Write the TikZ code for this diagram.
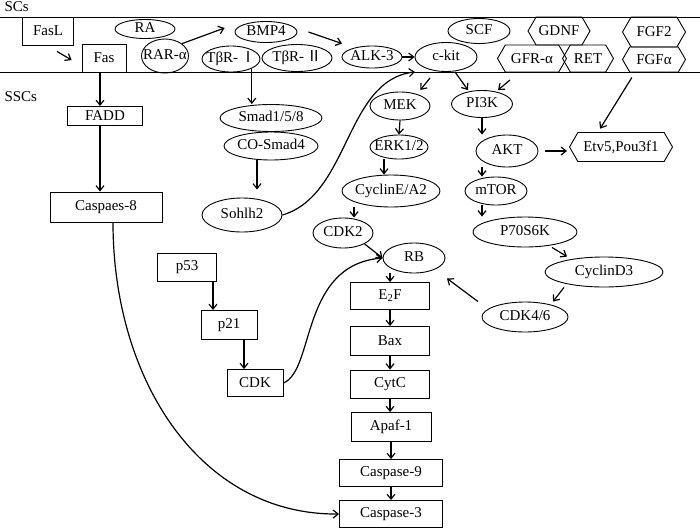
\documentclass[tikz,border=0pt]{standalone}
\usepackage{fontspec}
\setmainfont{Liberation Serif}
\newfontfamily\cjk{Noto Sans CJK SC}
\usetikzlibrary{shapes.geometric,shapes.symbols,arrows.meta}
\begin{document}
\begin{tikzpicture}[x=1pt,y=-1pt,font=\fontsize{15}{17}\selectfont,
    box/.style={draw,line width=0.9pt,inner sep=0pt},
    oval/.style={draw,ellipse,line width=0.9pt,inner xsep=-6pt,inner ysep=0pt,text height=9pt,text depth=2pt},
    hexa/.style={draw,signal,signal to=east and west,signal pointer angle=120,line width=0.9pt,inner sep=0pt},
    sz/.style 2 args={minimum width=#1pt,minimum height=#2pt},
    arr/.style={-{Straight Barb[length=5pt,width=8pt]},line width=1.2pt}]
    \useasboundingbox (0,0) rectangle (700,530);
    \draw[line width=0.9pt] (0,17) -- (700,17);
    \draw[line width=0.9pt] (0,72) -- (700,72);
    \node[anchor=west] (scs) at (1,7) {SCs};
    \node[anchor=west] (sscs) at (1,97) {SSCs};

    \node[box,sz={51}{28}] (fasl) at (48,31) {FasL};
    \node[box,sz={44}{28}] (fas) at (104,58) {Fas};
    \node[oval,sz={60}{19}] (ra) at (145,29) {RA};
    \node[oval,sz={47}{34}] (rar) at (165,56) {RAR-α};
    \node[oval,sz={62}{21}] (bmp) at (266,32) {BMP4};
    \node[oval,sz={58}{26}] (tbr1) at (231,59) {TβR-\,{\cjk Ⅰ}};
    \node[oval,sz={70}{27}] (tbr2) at (297,58) {TβR-\,{\cjk Ⅱ}};
    \node[oval,sz={60}{22}] (alk) at (372,57) {ALK-3};
    \node[oval,sz={62}{29}] (ckit) at (446,57) {c-kit};
    \node[oval,sz={62}{25}] (scf) at (479,31) {SCF};
    \node[hexa,sz={62}{28}] (gdnf) at (559,31) {GDNF};
    \node[hexa,sz={69}{27}] (gfr) at (532,58.5) {GFR-α};
    \node[hexa,sz={51}{27}] (ret) at (588,58.5) {RET};
    \node[hexa,sz={63}{30}] (fgf2) at (654,32) {FGF2};
    \node[hexa,sz={63}{25}] (fgfa) at (654,59.5) {FGFα};

    \node[box,sz={75}{19}] (fadd) at (105,116) {FADD};
    \node[box,sz={112}{30}] (casp8) at (106,207) {Caspaes-8};
    \node[oval,sz={102}{27}] (smad) at (271,118) {Smad1/5/8};
    \node[oval,sz={94}{28}] (cosmad) at (271,146) {CO-Smad4};
    \node[oval,sz={80}{34}] (sohlh) at (242,215) {Sohlh2};
    \node[oval,sz={60}{28}] (mek) at (400,106) {MEK};
    \node[oval,sz={58}{24}] (erk) at (399,147) {ERK1/2};
    \node[oval,sz={98}{32}] (cyce) at (391,191) {CyclinE/A2};
    \node[oval,sz={60}{30}] (cdk2) at (343,233) {CDK2};
    \node[oval,sz={61}{27}] (pi3k) at (482,104) {PI3K};
    \node[oval,sz={62}{32}] (akt) at (507,151) {AKT};
    \node[hexa,sz={103}{29}] (etv) at (621,147) {Etv5,Pou3f1};
    \node[oval,sz={62}{28}] (mtor) at (496,191) {mTOR};
    \node[oval,sz={104}{30}] (p70) at (525,232) {P70S6K};
    \node[oval,sz={118}{30}] (cycd) at (604,272) {CyclinD3};
    \node[oval,sz={86}{30}] (cdk46) at (525,317) {CDK4/6};
    \node[oval,sz={62}{30}] (rb) at (414,258) {RB};
    \node[box,sz={79}{27}] (e2f) at (390,296) {E\textsubscript{2}F};
    \node[box,sz={79}{29}] (bax) at (390,341) {Bax};
    \node[box,sz={79}{28}] (cytc) at (390,384) {CytC};
    \node[box,sz={80}{29}] (apaf) at (391,427) {Apaf-1};
    \node[box,sz={103}{27}] (casp9) at (391,473) {Caspase-9};
    \node[box,sz={103}{27}] (casp3) at (391,514) {Caspase-3};
    \node[box,sz={59}{28}] (p53) at (187,267) {p53};
    \node[box,sz={56}{29}] (p21) at (229,325) {p21};
    \node[box,sz={56}{27}] (cdk) at (255,383) {CDK};
    \coordinate (mekin) at (430,78);
    \coordinate (piin) at (510,80);

    \draw[arr] ([xshift=9pt,yshift=-6pt]fasl.south) -- ([xshift=-10pt,yshift=-2pt]fas.west);
    \draw[arr] (rar.north east) -- ([xshift=-10pt,yshift=4pt]bmp.west);
    \draw[arr] ([xshift=11pt]bmp.east) -- ([xshift=-30pt,yshift=2pt]alk.north);
    \draw[arr] (alk.east) -- (ckit.west);
    \draw[arr] ([xshift=9pt]ckit.south) -- ([xshift=-14pt]pi3k.north);
    \draw[arr,shorten >=2pt] (mekin) -- ([xshift=19pt]mek.north);
    \draw[arr] (piin) -- ([xshift=16pt]pi3k.north);
    \draw[arr,shorten <=6pt,shorten >=4pt] ([xshift=-19pt]fgfa.south) -- ([xshift=-23pt]etv.north);
    \draw[arr] ([xshift=-4pt]fas.south) -- ([xshift=-4pt]fas.south |- fadd.north);
    \draw[arr] ([xshift=-5pt]fadd.south) -- ([xshift=-5pt]fadd.south |- casp8.north);
    \draw[arr] (tbr1.south east) -- (tbr1.south east |- smad.north);
    \draw[arr,shorten >=8pt] ([xshift=-14pt]cosmad.south) -- ([xshift=-14pt]cosmad.south |- sohlh.north);
    \draw[arr] (sohlh.east) .. controls (350,195) and (345,80) .. ([xshift=-31pt]ckit.south);
    \draw[arr] (mek.south) -- (erk.north);
    \draw[arr] ([xshift=-15pt]erk.south) -- ([xshift=-15pt]erk.south |- cyce.north);
    \draw[arr] ([xshift=11pt]cdk2.north |- cyce.south) -- ([xshift=11pt]cdk2.north);
    \draw[arr] (cdk2.south east) -- (rb.west);
    \draw[arr] (pi3k.south) -- (pi3k.south |- akt.north);
    \draw[arr] (pi3k.south |- akt.south) -- (pi3k.south |- mtor.north);
    \draw[arr] (pi3k.south |- mtor.south) -- (pi3k.south |- p70.north);
    \draw[arr,shorten <=7pt,shorten >=2pt] (akt.east) -- (akt.east -| etv.west);
    \draw[arr] ([xshift=27pt]p70.south) -- ([xshift=-37pt]cycd.north);
    \draw[arr] ([xshift=-40pt]cycd.south) -- ([xshift=28pt]cdk46.north);
    \draw[arr] ([xshift=-47pt]cdk46.north) -- ([xshift=33pt,yshift=-5pt]rb.south);
    \draw[arr] (e2f.north |- rb.south) -- (e2f.north);
    \draw[arr] (e2f.south) -- (bax.north);
    \draw[arr] (bax.south) -- (cytc.north);
    \draw[arr] (cytc.south) -- (cytc.south |- apaf.north);
    \draw[arr] (apaf.south) -- (apaf.south |- casp9.north);
    \draw[arr] (casp9.south) -- (casp3.north);
    \draw[arr] ([xshift=-16pt]p21.north |- p53.south) -- ([xshift=-16pt]p21.north);
    \draw[arr] ([xshift=-11pt]cdk.north |- p21.south) -- ([xshift=-11pt]cdk.north);
    \draw[arr] (cdk.east) .. controls (315,370) and (300,265) .. (rb.west);
    \draw[arr] ([xshift=7pt]casp8.south) .. controls (113,380) and (200,515) .. (casp3.west);
\end{tikzpicture}
\end{document}
